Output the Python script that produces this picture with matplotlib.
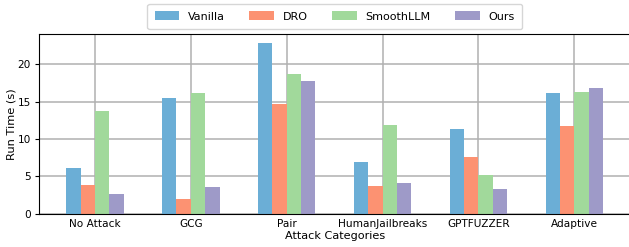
import numpy as np
import matplotlib
matplotlib.use("Agg")
import matplotlib.pyplot as plt

# ==================================================
# DATA
# ==================================================
categories = ["No Attack", "GCG", "Pair", "HumanJailbreaks", "GPTFUZZER", "Adaptive"]
methods = ["Vanilla", "DRO", "SmoothLLM", "Ours"]

vanilla = [6.13, 15.53, 22.9, 6.94, 11.37, 16.2]
dro = [3.85, 1.97, 14.73, 3.72, 7.61, 11.77]
smoothllm = [13.79, 16.2, 18.75, 11.9, 5.2, 16.34]
ours = [2.65, 3.58, 17.8, 4.12, 3.32, 16.87]

colors = ["#6baed6", "#fc9272", "#a1d99b", "#9e9ac8"]

# ==================================================
# PLOT
# ==================================================
plt.rcParams["font.size"] = 7.6

fig = plt.figure(figsize=(6.29, 2.47), dpi=100)
ax = fig.add_axes([0.0625, 0.135, 0.939, 0.726])

x = np.arange(len(categories))
width = 0.15
series = [vanilla, dro, smoothllm, ours]
for i, (vals, name, c) in enumerate(zip(series, methods, colors)):
    ax.bar(x + (i - 1.5) * width, vals, width, label=name, color=c, zorder=2)

ax.set_xticks(x)
ax.set_xticklabels(categories)
ax.tick_params(axis="x", length=0, pad=4)
ax.tick_params(axis="y", length=3, pad=3)
ax.set_yticks([0, 5, 10, 15, 20])
ax.grid(True, color="#b0b0b0", linewidth=1.1, zorder=0)
ax.set_axisbelow(True)
ax.set_xlabel("Attack Categories", fontsize=8.1, labelpad=1)
ax.set_ylabel("Run Time (s)", fontsize=8.2, labelpad=1)

ax.legend(loc="lower center", bbox_to_anchor=(0.5, 1.0), ncol=4, fontsize=8,
          frameon=True, columnspacing=2.2, handlelength=2.2,
          handleheight=0.9, borderpad=0.65)

fig.savefig("out.png", dpi=100)
